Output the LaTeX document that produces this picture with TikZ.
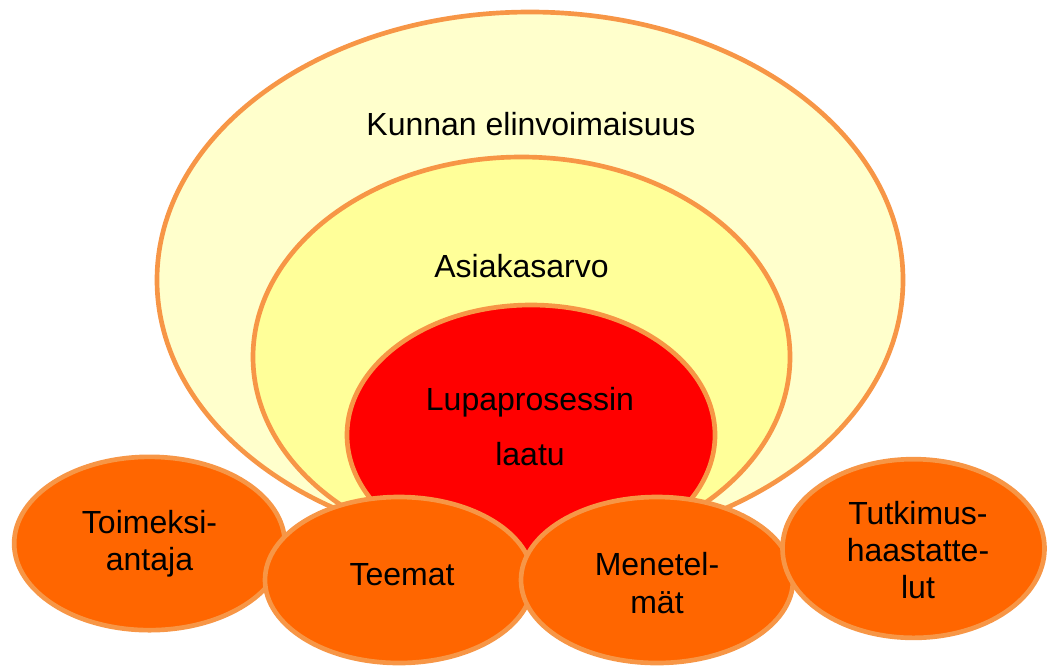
\documentclass[tikz,border=0pt]{standalone}
\usepackage{fontspec}
\setmainfont{Liberation Sans}
\usetikzlibrary{shapes.geometric, positioning}
\definecolor{ringline}{HTML}{F79646}
\definecolor{paleyellow}{HTML}{FFFFCC}
\definecolor{softyellow}{HTML}{FFFF99}
\definecolor{corered}{HTML}{FF0000}
\definecolor{petalorange}{HTML}{FF6600}

\tikzset{
  ring/.style={ellipse, draw=ringline, line width=3.5pt, inner sep=0pt},
  petal/.style={ring, fill=petalorange},
  lbl/.style={font=\fontsize{24}{28}\selectfont, align=center, inner sep=0pt}
}

\begin{document}
\begin{tikzpicture}[x=0.75pt, y=-0.75pt]
  \useasboundingbox (0,0) rectangle (1048,668);

  % Kehat
  \node[ring, fill=paleyellow, minimum width=559.5pt, minimum height=402pt] (kunta) at (530,280) {};
  \node[ring, fill=softyellow, minimum width=402.75pt, minimum height=300pt] (asiakas) at (521.5,357) {};
  \node[ring, fill=corered, minimum width=276pt, minimum height=195pt] (lupa) at (531,435) {};

  \node[lbl, anchor=base] (kuntatxt) at (531,135) {Kunnan elinvoimaisuus};
  \node[lbl, anchor=base] (asiakastxt) at (521.5,277) {Asiakasarvo};
  \node[lbl, anchor=base] (lupatxt) at (530,410) {Lupaprosessin};
  \node[lbl, anchor=base] (laatutxt) at (530,465) {laatu};

  % Alareunan soikiot
  \node[petal, minimum width=203pt, minimum height=130pt] (toim) at (149.5,543.5) {};
  \node[lbl] (toimtxt) at (toim.center) {Toimeksi-\\antaja};
  \node[petal, minimum width=201pt, minimum height=124.5pt] (teem) at (399,580) {};
  \node[lbl] (teemtxt) at (402,575) {Teemat};
  \node[petal, minimum width=204pt, minimum height=124.5pt] (mene) at (657,580) {};
  \node[lbl] (menetxt) at (657,583) {Menetel-\\mät};
  \node[petal, minimum width=196.5pt, minimum height=134pt] (tutk) at (913.5,548.5) {};
  \node[lbl] (tutktxt) at (918,550) {Tutkimus-\\haastatte-\\lut};
\end{tikzpicture}
\end{document}
